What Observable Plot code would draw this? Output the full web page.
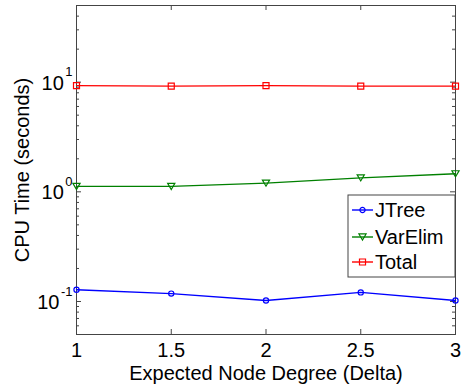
<!DOCTYPE html>
<html><head><meta charset="utf-8">
<script src="https://cdn.jsdelivr.net/npm/d3@7"></script>
<script src="https://cdn.jsdelivr.net/npm/@observablehq/plot@0.6"></script>
<style>body{margin:0;background:#fff}#chart{position:relative;width:462px;height:387px}</style>
</head><body><div id="chart"></div>
<script>
const degree = [1, 1.5, 2, 2.5, 3];
const jtree = [0.128, 0.118, 0.102, 0.121, 0.102];
const varelim = [1.12, 1.12, 1.20, 1.34, 1.46];
const total = [9.3, 9.2, 9.3, 9.2, 9.2];
const seriesNames = ["JTree", "VarElim", "Total"];
const seriesColors = ["#0000ff", "#008000", "#ff0000"];
const xTicks = [1, 1.5, 2, 2.5, 3];
const yMajor = [0.1, 1, 10];
const yExponents = ["-1", "0", "1"];
const yMinor = [0.05,0.06,0.07,0.08,0.09,0.2,0.3,0.4,0.5,0.6,0.7,0.8,0.9,2,3,4,5,6,7,8,9,20,30,40,50];

const triDown = {draw(ctx, size){const s=Math.sqrt(size*1.6);const h=s*0.85;ctx.moveTo(-s/2,-h/2);ctx.lineTo(s/2,-h/2);ctx.lineTo(0,h/2);ctx.closePath();}};
const symbols = [d3.symbolCircle, triDown, d3.symbolSquare];
const radii = [2.6, 3.2, 3.4];
const allSeries = [jtree, varelim, total];

const W = 462, H = 387, ML = 76, MR = 7, MT = 5, MB = 53;
const PW = W - ML - MR, PH = H - MT - MB;
const axisColor = "#444";
const font = "'Liberation Sans', Arial, Helvetica, sans-serif";
const supSize = 13;
const measure = document.createElement("canvas").getContext("2d");
measure.font = `${supSize}px 'Liberation Sans'`;

const marks = [
  Plot.frame({stroke: axisColor}),
  Plot.tickX(xTicks, {x: d => d, insetTop: PH - 5, stroke: axisColor}),
  Plot.tickX(xTicks, {x: d => d, insetBottom: PH - 5, stroke: axisColor}),
  Plot.tickY(yMajor, {y: d => d, insetRight: PW - 5, stroke: axisColor}),
  Plot.tickY(yMajor, {y: d => d, insetLeft: PW - 5, stroke: axisColor}),
  Plot.tickY(yMinor, {y: d => d, insetRight: PW - 3, stroke: axisColor}),
  Plot.tickY(yMinor, {y: d => d, insetLeft: PW - 3, stroke: axisColor}),
  Plot.axisX(xTicks, {tickSize: 0, tickPadding: 8, fontSize: 20, tickFormat: d => String(d),
    label: "Expected Node Degree (Delta)", labelAnchor: "center", labelOffset: 45, labelArrow: "none"}),
  Plot.axisY(yMajor, {tickSize: 0, tickPadding: 4, fontSize: supSize, dy: -10,
    tickFormat: d => yExponents[yMajor.indexOf(d)], label: null})
];
yMajor.forEach((v, i) => {
  const expW = measure.measureText(yExponents[i]).width;
  marks.push(Plot.axisY([v], {tickSize: 0, tickPadding: 4 + expW + 1.5, fontSize: 20, dy: 1, tickFormat: () => "10",
    label: i === 0 ? "CPU Time (seconds)" : null, labelAnchor: "center", labelOffset: 62, labelArrow: "none"}));
});
allSeries.forEach((vals, k) => {
  const data = degree.map((x, i) => ({x, y: vals[i]}));
  marks.push(Plot.line(data, {x: "x", y: "y", stroke: seriesColors[k], strokeWidth: 1.4}));
  marks.push(Plot.dot(data, {x: "x", y: "y", stroke: seriesColors[k], symbol: symbols[k], r: radii[k], strokeWidth: 1.2, fill: "none"}));
});

const chart = Plot.plot({
  width: W, height: H,
  marginLeft: ML, marginRight: MR, marginTop: MT, marginBottom: MB,
  style: {fontFamily: font, fontSize: "20px", background: "white", color: "black", overflow: "visible"},
  x: {domain: [1, 3]},
  y: {type: "log", domain: [0.05, 50]},
  marks
});
document.getElementById("chart").appendChild(chart);

// legend
const svg = d3.select(chart);
const lg = svg.append("g").attr("transform", "translate(348,195)");
lg.append("rect").attr("width", 107).attr("height", 82).attr("fill", "white").attr("stroke", axisColor);
seriesNames.forEach((name, k) => {
  const yy = [15, 42, 67][k];
  lg.append("line").attr("x1", 4).attr("x2", 25).attr("y1", yy).attr("y2", yy).attr("stroke", seriesColors[k]).attr("stroke-width", 1.4);
  lg.append("path").attr("d", d3.symbol(symbols[k], Math.PI * radii[k] * radii[k])()).attr("transform", `translate(14.5,${yy})`).attr("fill", "none").attr("stroke", seriesColors[k]).attr("stroke-width", 1.2);
  lg.append("text").attr("x", 27).attr("y", yy).attr("dy", "0.35em").attr("text-anchor", "start").attr("font-size", 20).attr("font-family", font).attr("fill", "black").text(name);
});
</script></body></html>
